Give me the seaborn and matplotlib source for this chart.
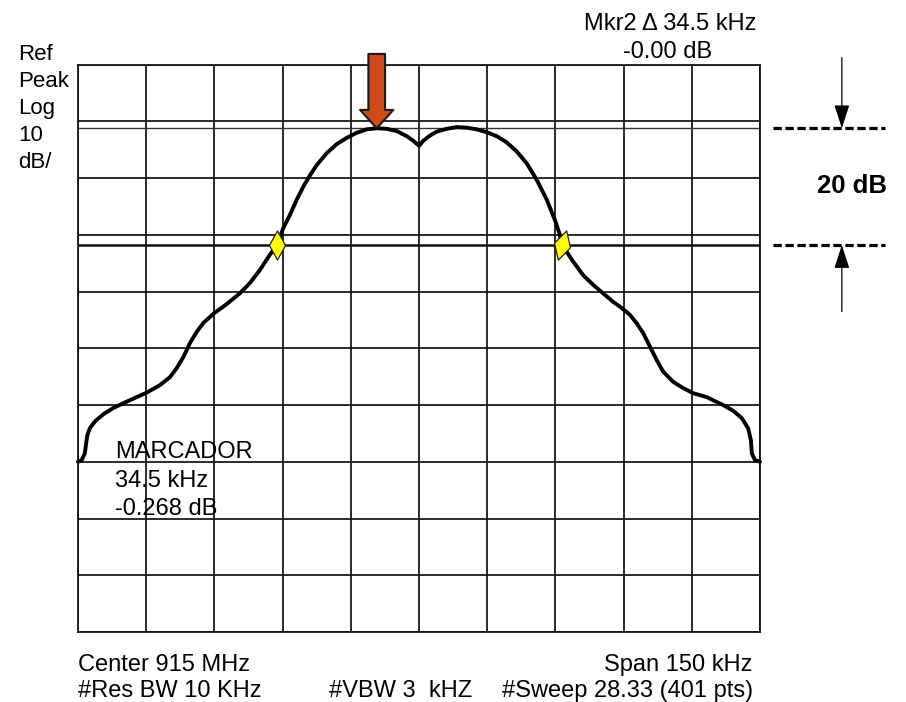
import numpy as np
import pandas as pd
import matplotlib
matplotlib.use("Agg")
import matplotlib.pyplot as plt
import seaborn as sns
from matplotlib.path import Path
from matplotlib import font_manager

# ---------------- data ----------------
freq_khz = [-75.0, -74.2, -73.5, -73.2, -72.95, -72.4, -71.3, -69.4, -67.2, -64.3,
            -59.9, -57.0, -54.8, -53.3, -51.8, -50.4, -48.9, -47.4, -45.2, -42.3,
            -39.4, -37.2, -35.0, -32.8, -31.2, -29.85, -28.4, -26.9, -25.45, -23.9,
            -22.5, -20.3, -18.1, -15.9, -13.7, -11.5, -9.3, -7.1, -4.9, -2.7,
            -1.25, 0.0, 0.95, 2.4, 3.9, 6.1, 8.3, 10.5, 12.7, 14.9,
            17.1, 19.3, 21.5, 23.7, 25.9, 28.1, 29.9, 31.0, 31.4, 32.5,
            33.9, 36.1, 38.3, 40.5, 42.7, 44.6, 46.4, 47.9, 49.3, 50.8,
            52.3, 53.7, 55.9, 58.1, 60.3, 63.3, 66.9, 69.1, 71.0, 72.4,
            73.0, 73.2, 73.9, 75.0]
level_db = [-70.0, -69.7, -68.5, -66.7, -65.3, -64.1, -62.9, -61.6, -60.5, -59.4,
            -57.8, -56.5, -55.1, -53.5, -51.5, -49.1, -47.1, -45.5, -43.9, -42.2,
            -40.3, -38.5, -36.2, -33.5, -31.8, -28.8, -26.5, -23.8, -21.5, -19.4,
            -17.7, -15.6, -14.0, -12.9, -12.0, -11.4, -11.2, -11.3, -11.7, -12.6,
            -13.4, -14.3, -13.4, -12.5, -11.8, -11.3, -11.0, -11.1, -11.4, -11.9,
            -12.6, -13.7, -15.3, -17.4, -20.3, -23.8, -27.4, -30.0, -31.8, -33.0,
            -34.7, -37.1, -38.8, -40.3, -41.8, -42.9, -44.1, -45.6, -47.3, -49.7,
            -52.1, -54.1, -55.9, -57.0, -57.9, -58.6, -60.0, -61.0, -62.3, -64.1,
            -66.2, -68.5, -69.7, -70.0]

marker_freq = [-31.2, 31.4]
marker_level = [-31.8, -31.8]
peak_freq = -9.3
peak_level = -11.2
ref_line_db = -11.2
marker_line_db = -31.8
x_grid = np.arange(-75, 76, 15)
y_grid = np.arange(-100, 1, 10)

left_labels = ["Ref", "Peak", "Log", "10", "dB/"]
mkr_lines = ["Mkr2 \u0394 34.5 kHz", "-0.00 dB"]
marcador_lines = ["MARCADOR", "34.5 kHz", "-0.268 dB"]
delta_label = "20 dB"
bottom_row1 = ["Center 915 MHz", "Span 150 kHz"]
bottom_row2 = ["#Res BW 10 KHz", "#VBW 3  kHZ", "#Sweep 28.33 (401 pts)"]

# ---------------- style ----------------
sns.set_style("white")
plt.rcParams["font.family"] = ["Liberation Sans", "DejaVu Sans"]

available = {f.name for f in font_manager.fontManager.ttflist}
if "Liberation Sans Narrow" in available:
    bottom_font = dict(family=["Liberation Sans Narrow", "DejaVu Sans"], size=20.5)
else:
    bottom_font = dict(family=["Liberation Sans", "DejaVu Sans"], size=17)

W, H = 906, 702
fig = plt.figure(figsize=(W / 100, H / 100), dpi=100)
fig.patch.set_facecolor("white")


def fp(x, y):
    return x / W, 1 - y / H


ax = fig.add_axes([78 / W, 1 - 632 / H, (760 - 78) / W, (632 - 64.7) / H])
ax.set_xlim(-75, 75)
ax.set_ylim(-100, 0)
ax.set_xticks(x_grid)
ax.set_yticks(y_grid)
ax.tick_params(length=0, labelbottom=False, labelleft=False)
ax.grid(True, color="#111111", linewidth=1.25)
ax.set_axisbelow(True)
for s in ax.spines.values():
    s.set_color("#111111")
    s.set_linewidth(1.25)

# reference / marker level lines
ax.axhline(ref_line_db, color="#333333", lw=1.0, zorder=2)
ax.axhline(marker_line_db, color="#111111", lw=1.8, zorder=2)

# trace
df = pd.DataFrame({"freq": freq_khz, "level": level_db})
sns.lineplot(data=df, x="freq", y="level", sort=False, estimator=None,
             color="black", linewidth=2.8, ax=ax, zorder=4, clip_on=False)
ax.set_xlabel("")
ax.set_ylabel("")

# yellow diamond markers
verts = [(0, 1), (0.55, 0), (0, -1), (-0.55, 0), (0, 1)]
codes = [Path.MOVETO, Path.LINETO, Path.LINETO, Path.LINETO, Path.CLOSEPOLY]
diamond = Path(verts, codes)
t = np.deg2rad(-16)
rot = [(x * np.cos(t) - y * np.sin(t), x * np.sin(t) + y * np.cos(t)) for x, y in verts]
diamond_tilt = Path(rot, codes)
ax.plot([marker_freq[0]], [marker_level[0]], marker=diamond, markersize=21,
        markerfacecolor="#FFFF00", markeredgecolor="#222222", markeredgewidth=0.9,
        linestyle="none", zorder=5)
ax.plot([marker_freq[1]], [marker_level[1]], marker=diamond_tilt, markersize=21,
        markerfacecolor="#FFFF00", markeredgecolor="#222222", markeredgewidth=0.9,
        linestyle="none", zorder=5)

# red peak arrow
ax.annotate("", xy=(peak_freq, peak_level), xytext=(peak_freq, 1.9),
            arrowprops=dict(arrowstyle="simple,head_length=1.32,head_width=2.4,tail_width=1.2",
                            fc="#D2491B", ec="#1a1a1a", lw=1.5, shrinkA=0, shrinkB=0,
                            mutation_scale=10),
            annotation_clip=False, zorder=6)

# right-side 20 dB indicator
for lvl in (ref_line_db, marker_line_db):
    ax.plot([77.8, 102.6], [lvl, lvl], color="black", lw=2.3,
            linestyle=(0, (2.6, 1.15)), clip_on=False)
ax.annotate("", xy=(93.0, ref_line_db), xytext=(93.0, 1.25),
            arrowprops=dict(arrowstyle="-|>,head_length=1.45,head_width=0.47",
                            color="black", lw=0.9, shrinkA=0, shrinkB=0, mutation_scale=10),
            annotation_clip=False)
ax.annotate("", xy=(93.0, marker_line_db), xytext=(93.0, -43.5),
            arrowprops=dict(arrowstyle="-|>,head_length=1.45,head_width=0.47",
                            color="black", lw=0.9, shrinkA=0, shrinkB=0, mutation_scale=10),
            annotation_clip=False)
fig.text(*fp(852, 193), delta_label, ha="center", va="baseline",
         fontsize=18.5, fontweight="bold", color="black")

# texts
for i, lab in enumerate(left_labels):
    fig.text(*fp(18, 60 + 27 * i), lab, ha="left", va="baseline", fontsize=16, color="black")

fig.text(*fp(670, 30), mkr_lines[0], ha="center", va="baseline", fontsize=17, color="black")
fig.text(*fp(668, 58), mkr_lines[1], ha="center", va="baseline", fontsize=17, color="black")

for i, lab in enumerate(marcador_lines):
    fig.text(*fp(115, 458.3 + 28.4 * i), lab, ha="left", va="baseline", fontsize=17,
             color="black", zorder=7)

fig.text(*fp(78, 671), bottom_row1[0], ha="left", va="baseline", color="black", **bottom_font)
fig.text(*fp(752, 671), bottom_row1[1], ha="right", va="baseline", color="black", **bottom_font)
fig.text(*fp(78, 697), bottom_row2[0], ha="left", va="baseline", color="black", **bottom_font)
fig.text(*fp(329, 697), bottom_row2[1], ha="left", va="baseline", color="black", **bottom_font)
fig.text(*fp(502, 697), bottom_row2[2], ha="left", va="baseline", color="black", **bottom_font)

fig.savefig("out.png", dpi=100, facecolor="white")
